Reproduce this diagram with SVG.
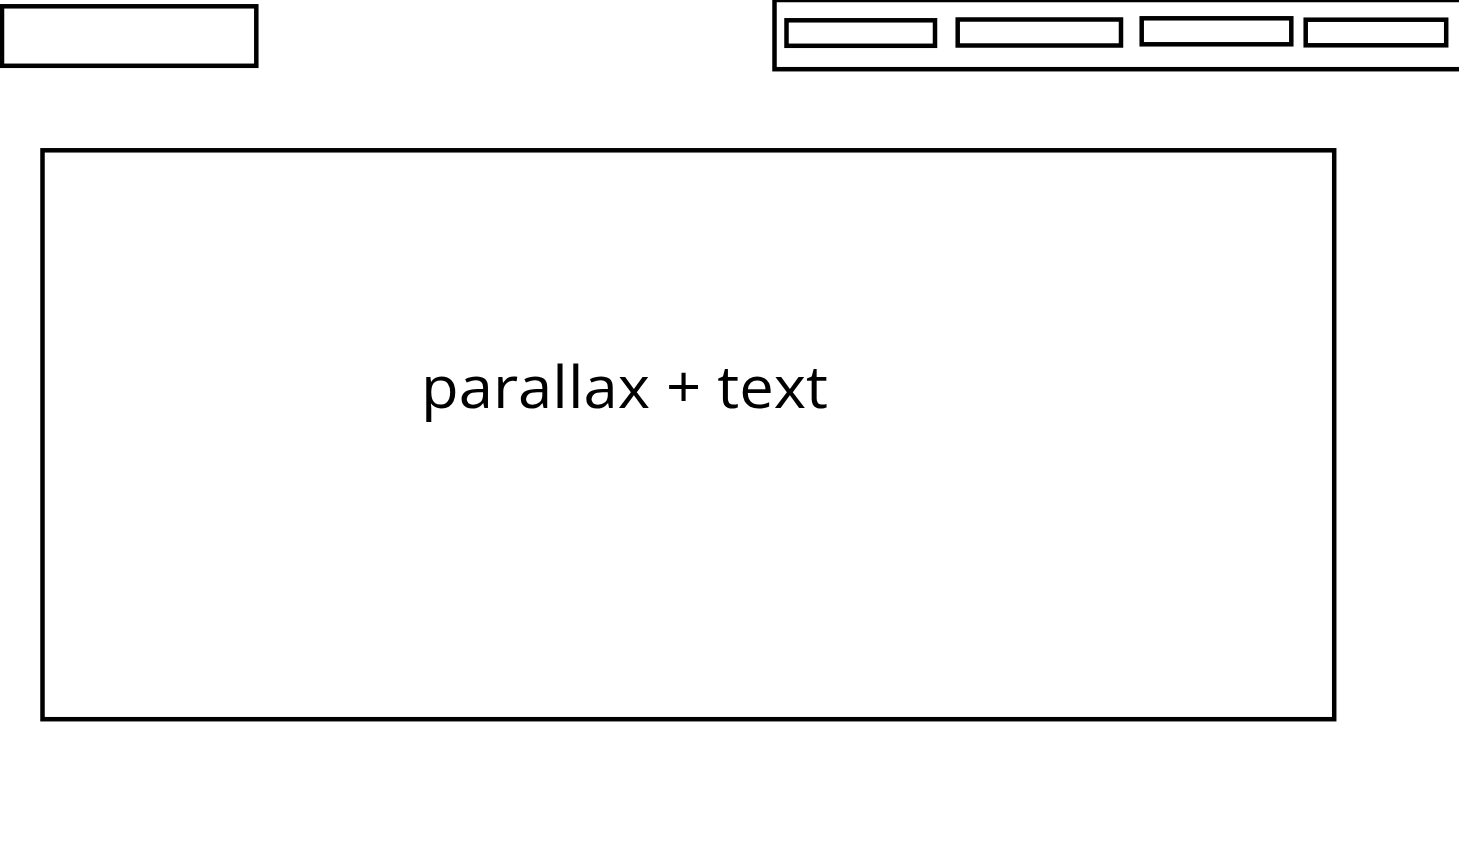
<svg xmlns="http://www.w3.org/2000/svg" width="1459" height="864" viewBox="0 0 1459 864">
<style>
.box{fill:#fff;stroke:#000;stroke-width:4.5}
.lbl{font-family:"Open Sans","Noto Sans","Liberation Sans",sans-serif;font-size:58px;fill:#000}
</style>
<rect width="1459" height="864" fill="#fff"/>
<g id="logo"><rect class="box" x="2" y="6.3" width="254.3" height="59.5"/></g>
<g id="nav">
<rect class="box" x="774.5" y="0" width="700" height="69.2"/>
<g id="nav-item-1"><rect class="box" x="786.5" y="20.3" width="148.5" height="25.5"/></g>
<g id="nav-item-2"><rect class="box" x="957.7" y="19.5" width="163.3" height="26"/></g>
<g id="nav-item-3"><rect class="box" x="1141.7" y="18.3" width="149.6" height="26"/></g>
<g id="nav-item-4"><rect class="box" x="1305.7" y="19.7" width="140.5" height="25.6"/></g>
</g>
<g id="hero">
<rect class="box" x="42.5" y="150.3" width="1291.7" height="568.9"/>
<text class="lbl" x="421" y="407.5" textLength="407" lengthAdjust="spacingAndGlyphs">parallax + text</text>
</g>
<g id="connectors"/>
</svg>
